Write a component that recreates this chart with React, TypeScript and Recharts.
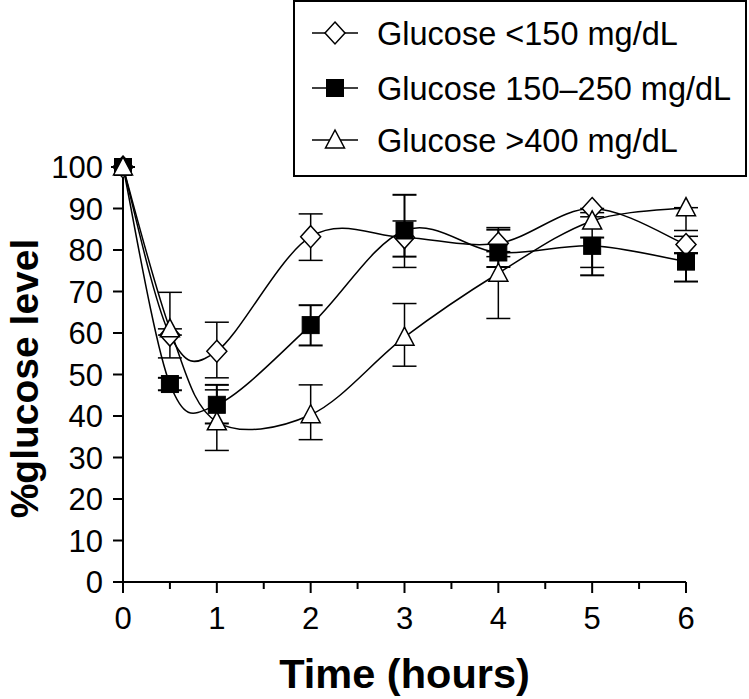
import React from 'react';
import { LineChart, Line, XAxis, YAxis, ErrorBar } from 'recharts';

const hours = [0, 0.5, 1, 2, 3, 4, 5, 6];

const under150 = [100, 59.5, 55.6, 83.2, 83, 81.6, 90, 81.3];
const under150ErrLow = [0, 5.5, 6.4, 5.7, 7.2, 2, 1, 2];
const under150ErrHigh = [0, 0, 7, 5.5, 4, 3.8, 0, 2];

const mid150to250 = [100, 47.7, 42.7, 61.9, 84.7, 79.4, 81, 77.2];
const midErrLow = [0, 1.5, 4.5, 4.9, 6.3, 3.5, 7.1, 4.8];
const midErrHigh = [0, 1.5, 4.8, 4.8, 8.6, 5.5, 2, 2];

const over400 = [100, 61, 38.6, 40.3, 59, 74.4, 87, 90.2];
const over400ErrLow = [0, 0, 6.9, 6, 7, 10.9, 11.2, 5.5];
const over400ErrHigh = [0, 8.8, 7.7, 7.2, 8.1, 4, 1, 0];

const xTicks = [0, 0.5, 1, 1.5, 2, 2.5, 3, 3.5, 4, 4.5, 5, 5.5, 6];
const yTicks = [0, 10, 20, 30, 40, 50, 60, 70, 80, 90, 100];

const legendLabels = ['Glucose <150 mg/dL', 'Glucose 150\u2013250 mg/dL', 'Glucose >400 mg/dL'];

const data = hours.map((h, i) => ({
  hour: h,
  low: under150[i],
  lowErr: [under150ErrLow[i], under150ErrHigh[i]],
  mid: mid150to250[i],
  midErr: [midErrLow[i], midErrHigh[i]],
  high: over400[i],
  highErr: [over400ErrLow[i], over400ErrHigh[i]],
}));

const FONT = "Arial, 'Liberation Sans', Helvetica, sans-serif";

// cardinal spline (catmull-rom like), passed to recharts as a curve factory
const smoothCurve = (context: any) => {
  let pts: number[][] = [];
  return {
    areaStart() {},
    areaEnd() {},
    lineStart() {
      pts = [];
    },
    point(x: number, y: number) {
      pts.push([+x, +y]);
    },
    lineEnd() {
      const n = pts.length;
      if (!n) return;
      context.moveTo(pts[0][0], pts[0][1]);
      const k = 1 / 6;
      for (let i = 0; i < n - 1; i++) {
        const p0 = pts[Math.max(i - 1, 0)];
        const p1 = pts[i];
        const p2 = pts[i + 1];
        const p3 = pts[Math.min(i + 2, n - 1)];
        context.bezierCurveTo(
          p1[0] + k * (p2[0] - p0[0]),
          p1[1] + k * (p2[1] - p0[1]),
          p2[0] - k * (p3[0] - p1[0]),
          p2[1] - k * (p3[1] - p1[1]),
          p2[0],
          p2[1]
        );
      }
    },
  };
};

const Diamond = ({ cx, cy }: { cx: number; cy: number }) => (
  <polygon
    points={`${cx},${cy - 11} ${cx + 10},${cy} ${cx},${cy + 11} ${cx - 10},${cy}`}
    fill="#fff"
    stroke="#000"
    strokeWidth={1.5}
  />
);

const Square = ({ cx, cy }: { cx: number; cy: number }) => (
  <rect x={cx - 8.5} y={cy - 8.5} width={17} height={17} fill="#000" stroke="#000" strokeWidth={1} />
);

const Triangle = ({ cx, cy }: { cx: number; cy: number }) => (
  <polygon
    points={`${cx},${cy - 10} ${cx + 9.5},${cy + 8} ${cx - 9.5},${cy + 8}`}
    fill="#fff"
    stroke="#000"
    strokeWidth={1.5}
  />
);

const markers = [Diamond, Square, Triangle];

const XTick = (props: any) => {
  const { x, y, payload } = props;
  const major = Number.isInteger(payload.value);
  return (
    <g>
      <line x1={x} x2={x} y1={y} y2={y + (major ? 11 : 7)} stroke="#000" strokeWidth={2} />
      {major && (
        <text x={x} y={y + 47} textAnchor="middle" fontSize={31} fontFamily={FONT} fill="#000">
          {payload.value}
        </text>
      )}
    </g>
  );
};

const LegendBox = () => (
  <div
    style={{
      position: 'absolute',
      left: 293,
      top: 0,
      width: 454,
      height: 177,
      border: '2px solid #000',
      boxSizing: 'border-box',
      background: '#fff',
    }}
  >
    <svg width={450} height={173} style={{ position: 'absolute', left: 0, top: 0 }}>
      {legendLabels.map((label, i) => {
        const cy = [31, 86, 138][i];
        const Marker = markers[i];
        return (
          <g key={label}>
            <line x1={17} x2={63} y1={cy} y2={cy} stroke="#000" strokeWidth={1.5} />
            <Marker cx={40} cy={cy} />
            <text x={82} y={cy + 11.5} fontSize={32.5} fontFamily={FONT} fill="#000">
              {label}
            </text>
          </g>
        );
      })}
    </svg>
  </div>
);

export default function App() {
  return (
    <div style={{ position: 'absolute', left: 0, top: 0, width: 749, height: 699, background: '#fff' }}>
      <LineChart
        width={749}
        height={699}
        data={data}
        margin={{ top: 167, right: 63, bottom: 57, left: 23 }}
      >
        <XAxis
          dataKey="hour"
          type="number"
          domain={[0, 6]}
          ticks={xTicks}
          interval={0}
          height={60}
          tickSize={0}
          tickMargin={0}
          tickLine={false}
          tick={<XTick />}
          axisLine={{ stroke: '#000', strokeWidth: 2 }}
          label={{
            content: (p: any) => {
              const vb = p.viewBox;
              return (
                <text
                  x={vb.x + vb.width / 2}
                  y={vb.y + 106}
                  textAnchor="middle"
                  fontSize={41.5}
                  fontWeight="bold"
                  fontFamily={FONT}
                  fill="#000"
                >
                  Time (hours)
                </text>
              );
            },
          }}
        />
        <YAxis
          type="number"
          domain={[0, 100]}
          ticks={yTicks}
          interval={0}
          width={100}
          tickSize={10}
          tickMargin={10}
          tick={{ fill: '#000', fontSize: 31, fontFamily: FONT }}
          tickLine={{ stroke: '#000', strokeWidth: 2 }}
          axisLine={{ stroke: '#000', strokeWidth: 2 }}
          label={{
            content: (p: any) => {
              const vb = p.viewBox;
              const cx = vb.x + 15;
              const cy = vb.y + vb.height / 2 + 4;
              return (
                <text
                  x={cx}
                  y={cy}
                  transform={`rotate(-90, ${cx}, ${cy})`}
                  textAnchor="middle"
                  fontSize={39}
                  fontWeight="bold"
                  fontFamily={FONT}
                  fill="#000"
                >
                  %glucose level
                </text>
              );
            },
          }}
        />
        <Line
          type={smoothCurve as any}
          dataKey="low"
          stroke="#000"
          strokeWidth={1.5}
          dot={(p: any) => <Diamond key={`d${p.index}`} cx={p.cx} cy={p.cy} />}
          activeDot={false}
          isAnimationActive={false}
        >
          <ErrorBar dataKey="lowErr" direction="y" width={12} stroke="#000" strokeWidth={1.5} />
        </Line>
        <Line
          type={smoothCurve as any}
          dataKey="mid"
          stroke="#000"
          strokeWidth={1.5}
          dot={(p: any) => <Square key={`s${p.index}`} cx={p.cx} cy={p.cy} />}
          activeDot={false}
          isAnimationActive={false}
        >
          <ErrorBar dataKey="midErr" direction="y" width={12} stroke="#000" strokeWidth={2} />
        </Line>
        <Line
          type={smoothCurve as any}
          dataKey="high"
          stroke="#000"
          strokeWidth={1.5}
          dot={(p: any) => <Triangle key={`t${p.index}`} cx={p.cx} cy={p.cy} />}
          activeDot={false}
          isAnimationActive={false}
        >
          <ErrorBar dataKey="highErr" direction="y" width={12} stroke="#000" strokeWidth={1.5} />
        </Line>
      </LineChart>
      <LegendBox />
    </div>
  );
}
